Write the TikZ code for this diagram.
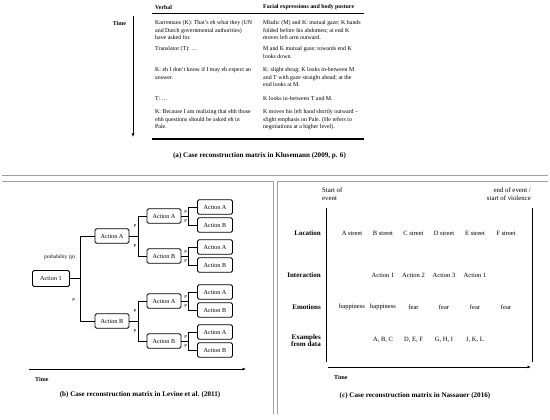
\documentclass[tikz,border=0pt]{standalone}
\usepackage{fontspec}
\setmainfont{Liberation Serif}
\usetikzlibrary{arrows.meta}
\begin{document}
\begin{tikzpicture}[x=1pt,y=-1pt,
  txt/.style={font=\fontsize{5.9}{7.8}\selectfont, inner sep=0pt, align=left, anchor=north west},
  hdr/.style={font=\fontsize{5.9}{6.5}\selectfont\bfseries, inner sep=0pt, anchor=west},
  captxt/.style={font=\fontsize{7.1}{8}\selectfont\bfseries, inner sep=0pt},
  timelab/.style={font=\fontsize{6}{7}\selectfont\bfseries, inner sep=0pt},
  act/.style={draw, rounded corners=1.5pt, line width=0.9pt, minimum width=34pt, minimum height=14.5pt, inner sep=0pt, font=\fontsize{6.2}{7}\selectfont},
  lnk/.style={line width=0.6pt},
  pl/.style={font=\fontsize{4.6}{5}\selectfont, inner sep=0.8pt, anchor=east},
  cell/.style={font=\fontsize{6.5}{7.5}\selectfont, inner sep=0pt},
  rowlab/.style={font=\fontsize{7}{7.4}\selectfont\bfseries, inner sep=0pt, anchor=east, align=right},
  framel/.style={draw=gray!75, line width=0.5pt},
  arr/.style={line width=0.9pt, -{Latex[length=3.5pt,width=3pt]}},
  rulel/.style={line width=1.2pt}
]
\useasboundingbox (0,0) rectangle (550,420);

% ---------------- panel (a) ----------------
\node[hdr] (hv) at (155,7) {Verbal};
\node[hdr] (hf) at (263,7) {Facial expressions and body posture};
\coordinate (r1a) at (152,13.5); \coordinate (r1b) at (364,13.5);
\draw[rulel] (r1a) -- (r1b);
\coordinate (r2a) at (152,139); \coordinate (r2b) at (364,139);
\draw[rulel] (r2a) -- (r2b);
\coordinate (ta0) at (133,16); \coordinate (ta1) at (133,137);
\draw[arr] (ta0) -- (ta1);
\node[timelab] (tal) at (119.5,23) {Time};

\node[txt] (t1l) at (155,20) {Karremans (K): That's eh what they (UN\\and Dutch governmental authorities)\\have asked for.};
\node[txt] (t1r) at (263,20) {Mladic (M) and K: mutual gaze; K hands\\folded before his abdomen; at end K\\moves left arm outward.};
\node[txt] (t2l) at (155,46) {Translator (T): …};
\node[txt] (t2r) at (263,46) {M and K mutual gaze; towards end K\\looks down.};
\node[txt] (t3l) at (155,67) {K: eh I don't know if I may eh expect an\\answer.};
\node[txt] (t3r) at (263,67) {K: slight shrug; K looks in-between M\\and T with gaze straight ahead; at the\\end looks at M.};
\node[txt] (t4l) at (155,96) {T: …};
\node[txt] (t4r) at (263,96) {K looks in-between T and M.};
\node[txt] (t5l) at (155,109) {K: Because I am realizing that ehh those\\ehh questions should be asked eh in\\Pale.};
\node[txt] (t5r) at (263,109) {K moves his left hand shortly outward –\\slight emphasis on Pale. (He refers to\\negotiations at a higher level).};

\node[captxt] (capa) at (259.5,156) {(a) Case reconstruction matrix in Klusemann (2009, p. 6)};

% ---------------- frames ----------------
\coordinate (f0) at (2,175); \coordinate (f1) at (548,175);
\draw[framel] (f0) -- (f1);
\coordinate (fl0) at (2,181); \coordinate (fl1) at (273,181); \coordinate (fl2) at (273,414);
\draw[framel] (fl0) -- (fl1) -- (fl2);
\coordinate (fr0) at (548,181); \coordinate (fr1) at (277,181); \coordinate (fr2) at (277,414);
\draw[framel] (fr0) -- (fr1) -- (fr2);

% ---------------- panel (b) ----------------
\node[act, minimum width=37pt, minimum height=16pt] (a1) at (51,278.5) {Action 1};
\node[act] (A) at (112,236) {Action A};
\node[act] (B) at (112,321) {Action B};
\node[act] (AA) at (164,216) {Action A};
\node[act] (AB) at (164,256) {Action B};
\node[act] (BA) at (164,301) {Action A};
\node[act] (BB) at (164,341) {Action B};
\node[act, minimum width=35pt] (AAA) at (215,207) {Action A};
\node[act, minimum width=35pt] (AAB) at (215,225) {Action B};
\node[act, minimum width=35pt] (ABA) at (215,247) {Action A};
\node[act, minimum width=35pt] (ABB) at (215,265) {Action B};
\node[act, minimum width=35pt] (BAA) at (215,292) {Action A};
\node[act, minimum width=35pt] (BAB) at (215,310) {Action B};
\node[act, minimum width=35pt] (BBA) at (215,332) {Action A};
\node[act, minimum width=35pt] (BBB) at (215,350) {Action B};

\draw[lnk] (a1.east) -- ++(10.5,0) |- (A.west);
\draw[lnk] (a1.east) -- ++(10.5,0) |- (B.west);
\foreach \p/\c/\d in {A/AA/AB, B/BA/BB}{
  \draw[lnk] (\p.east) -- ++(9,0) |- (\c.west);
  \draw[lnk] (\p.east) -- ++(9,0) |- (\d.west);
}
\foreach \p/\c/\d in {AA/AAA/AAB, AB/ABA/ABB, BA/BAA/BAB, BB/BBA/BBB}{
  \draw[lnk] (\p.east) -- ++(7,0) |- (\c.west);
  \draw[lnk] (\p.east) -- ++(7,0) |- (\d.west);
}

\node[pl, font=\fontsize{5.3}{6}\selectfont] (pp) at (76,257) {probability (p)};
\node[pl] (p0) at (76,300) {P};
\node[pl] (p1) at (137.5,226) {P};
\node[pl] (p2) at (137.5,246) {P};
\node[pl] (p3) at (137.5,311) {P};
\node[pl] (p4) at (137.5,331) {P};
\node[pl] (p5) at (188,211.5) {P};
\node[pl] (p6) at (188,220.5) {P};
\node[pl] (p7) at (188,251.5) {P};
\node[pl] (p8) at (188,260.5) {P};
\node[pl] (p9) at (188,296.5) {P};
\node[pl] (p10) at (188,305.5) {P};
\node[pl] (p11) at (188,336.5) {P};
\node[pl] (p12) at (188,345.5) {P};

\coordinate (tb0) at (29,369); \coordinate (tb1) at (246,369);
\draw[arr] (tb0) -- (tb1);
\node[timelab, anchor=west] (tbl) at (35,379) {Time};
\node[captxt] (capb) at (140,395) {(b) Case reconstruction matrix in Levine et al. (2011)};

% ---------------- panel (c) ----------------
\node[cell, align=left, anchor=north west, font=\fontsize{6.8}{7.7}\selectfont] (st) at (322,188) {Start of\\event};
\node[cell, align=right, anchor=north east, font=\fontsize{6.8}{7.7}\selectfont] (en) at (531,188) {end of event /\\start of violence};
\coordinate (vl0) at (326,208); \coordinate (vl1) at (326,362);
\coordinate (vr0) at (532,208); \coordinate (vr1) at (532,362);
\draw[line width=1pt] (vl0) -- (vl1);
\draw[line width=1pt] (vr0) -- (vr1);

\node[rowlab] (rl1) at (321,233) {Location};
\node[rowlab] (rl2) at (321,275) {Interaction};
\node[rowlab] (rl3) at (321,307) {Emotions};
\node[rowlab] (rl4) at (321,340.5) {Examples\\from data};

\node[cell] (l1) at (352,233) {A street};
\node[cell] (l2) at (383,233) {B street};
\node[cell] (l3) at (413.5,233) {C street};
\node[cell] (l4) at (444,233) {D street};
\node[cell] (l5) at (475,233) {E street};
\node[cell] (l6) at (506,233) {F street};

\node[cell] (i2) at (383,275) {Action 1};
\node[cell] (i3) at (413.5,275) {Action 2};
\node[cell] (i4) at (444,275) {Action 3};
\node[cell] (i5) at (475,275) {Action 1};

\node[cell] (e1) at (352,307) {happiness};
\node[cell] (e2) at (383,307) {happiness};
\node[cell] (e3) at (413.5,307) {fear};
\node[cell] (e4) at (444,307) {fear};
\node[cell] (e5) at (475,307) {fear};
\node[cell] (e6) at (506,307) {fear};

\node[cell] (x2) at (383,340) {A, B, C};
\node[cell] (x3) at (413.5,340) {D, E, F};
\node[cell] (x4) at (444,340) {G, H, I};
\node[cell] (x5) at (475,340) {J, K, L};

\coordinate (tc0) at (328,367); \coordinate (tc1) at (531,367);
\draw[arr] (tc0) -- (tc1);
\node[timelab, anchor=west] (tcl) at (334,377) {Time};
\node[captxt] (capc) at (415,396) {(c) Case reconstruction matrix in Nassauer (2016)};
\end{tikzpicture}
\end{document}
